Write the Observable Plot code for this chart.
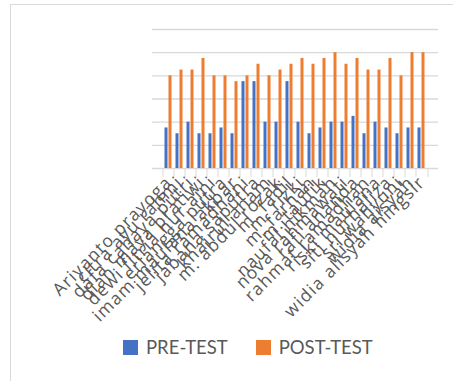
<!DOCTYPE html>
<html>
<head>
<meta charset="utf-8">
<script src="https://cdn.jsdelivr.net/npm/d3@7"></script>
<script src="https://cdn.jsdelivr.net/npm/@observablehq/plot@0.6"></script>
<style>
  html, body { margin: 0; padding: 0; background: #fff; }
  body { width: 453px; height: 381px; position: relative; overflow: hidden; font-family: Lato, sans-serif; }
  #frame { position: absolute; left: 10px; top: 4px; width: 460px; height: 400px; border: 1px solid #d9d9d9; box-sizing: border-box; }
  #chart { position: absolute; left: 0; top: 0; }
  #legend { position: absolute; left: 123px; top: 336px; display: flex; align-items: center; font-size: 18.5px; color: #595959; }
  .sw { width: 15px; height: 15px; display: inline-block; margin-right: 8px; }
  .item { display: flex; align-items: center; margin-right: 28px; }
</style>
</head>
<body>
<div id="frame"></div>
<div id="chart"></div>
<div id="legend"></div>
<script>
const names = [
  "Ariyanto prayoga", "citra ayu rahmi", "dafa cahaya putri", "dian maya pratiwi",
  "dewi fitria nur aini", "erlangga putra", "imam maulana akbar", "jelita ramadhani",
  "jabana saputra", "khairul anam", "m. abdul rozak", "m. fadil",
  "m. rizki", "m. farhan", "m. taufik", "naufal hikmah",
  "nova rahmawati", "rafi ananda", "rahmat ramadhan", "riski maulana",
  "siti nurhaliza", "sri wahyuni", "widia aisyah", "widia alisyah hingsir"
];
const preTest  = [35,30,40,30,30,35,30,75,75,40,40,75,40,30,35,40,40,45,30,40,35,30,35,35];
const postTest = [80,85,85,95,80,80,75,80,90,80,85,90,95,90,95,100,90,95,85,85,95,80,100,100];
const gridTicks = [0,20,40,60,80,100,120];
const seriesNames = ["PRE-TEST", "POST-TEST"];
const seriesColors = ["#4472C4", "#ED7D31"];

const rows = names.map((n, i) => ({name: n, pre: preTest[i], post: postTest[i]}));

const chart = Plot.plot({
  width: 453,
  height: 330,
  marginLeft: 152,
  marginRight: 15,
  marginTop: 29,
  marginBottom: 162,
  style: {fontFamily: "'Open Sans', sans-serif", background: "transparent", letterSpacing: "1.3px"},
  x: {domain: names, padding: 0, axis: null, label: null},
  y: {domain: [0, 120], axis: null},
  marks: [
    Plot.gridY(gridTicks, {stroke: "#d9d9d9", strokeOpacity: 1, strokeWidth: 1.3}),
    Plot.barY(rows, {x: "name", y: "pre", fill: seriesColors[0], insetLeft: 1.5, insetRight: 6.5}),
    Plot.barY(rows, {x: "name", y: "post", fill: seriesColors[1], insetLeft: 5.5, insetRight: 2.5}),
    Plot.axisX({tickSize: 9, tickFormat: () => "", label: null, dx: -6, stroke: "#d9d9d9", strokeOpacity: 1}),
    Plot.axisX([names[names.length - 1]], {tickSize: 9, tickFormat: () => "", label: null, dx: 6, stroke: "#d9d9d9", strokeOpacity: 1}),
    Plot.axisX({tickSize: 0, tickRotate: -45, tickPadding: 11, fontSize: 17.5, label: null, fill: "#595959"})
  ]
});
document.getElementById("chart").appendChild(chart);

const legend = document.getElementById("legend");
seriesNames.forEach((s, i) => {
  const item = document.createElement("div");
  item.className = "item";
  const sw = document.createElement("span");
  sw.className = "sw";
  sw.style.background = seriesColors[i];
  item.appendChild(sw);
  const t = document.createElement("span");
  t.textContent = s;
  item.appendChild(t);
  legend.appendChild(item);
});
</script>
</body>
</html>
